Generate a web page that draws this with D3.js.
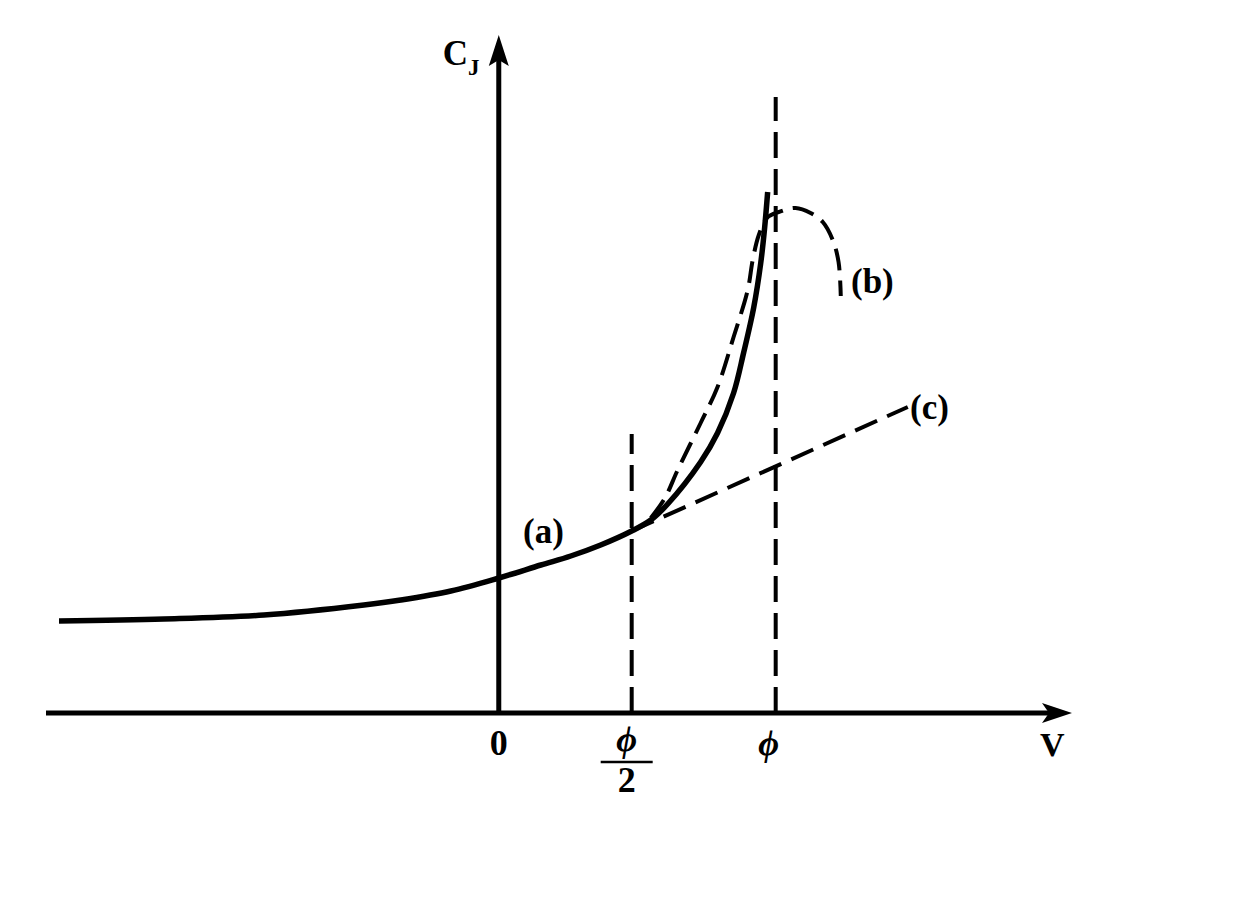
<!DOCTYPE html>
<html>
<head>
<meta charset="utf-8">
<script src="https://cdn.jsdelivr.net/npm/d3@7"></script>
<style>
	html, body { margin: 0; padding: 0; background: #fff; }
	svg { display: block; }
	text { font-family: "Liberation Serif", "DejaVu Serif", serif; font-weight: bold; fill: #000; }
</style>
</head>
<body>
<svg width="1250" height="902"></svg>
<script>
'use strict';

// V in units of phi, C_J in arbitrary units
const vRange = [-1.635, 2.07];
const cRange = [0, 6.78];

// (a) solid curve
const curveA = [
	[-1.588, 0.92], [-1.209, 0.94], [-0.848, 0.98], [-0.487, 1.08], [-0.354, 1.13],
	[-0.173, 1.22], [0, 1.35], [0.152, 1.48], [0.26, 1.57], [0.368, 1.68],
	[0.48, 1.82], [0.549, 1.93], [0.61, 2.09], [0.729, 2.51], [0.79, 2.80],
	[0.848, 3.20], [0.884, 3.60], [0.921, 4.06], [0.946, 4.50], [0.96, 4.85],
	[0.971, 5.21]
];

// (b) dashed curve with the rounded top
const curveB = [
	[0.549, 1.95], [0.60, 2.15], [0.646, 2.43], [0.729, 2.90], [0.79, 3.26],
	[0.848, 3.76], [0.899, 4.23], [0.917, 4.53], [0.939, 4.78], [0.968, 4.95],
	[1.011, 5.01], [1.072, 5.05], [1.126, 5.00], [1.170, 4.91], [1.206, 4.73],
	[1.227, 4.51], [1.235, 4.17]
];

// (c) dashed tangent line
const lineC = [[0.48, 1.82], [1.477, 3.06]];

// dashed verticals at phi/2 and phi
const markerV = [0.48, 1];
const markerTop = [2.79, 6.16];

const tickValues = [0, 0.48, 1];
const tickLabels = ["0", "\u03D5/2", "\u03D5"];

const svg = d3.select("svg");
const x = d3.scaleLinear().domain(vRange).range([46, 1072]);
const y = d3.scaleLinear().domain(cRange).range([713, 35]);

const line = d3.line()
	.x(d => x(d[0]))
	.y(d => y(d[1]));

// axes
const x0 = x(0), y0 = y(0);
const xEnd = x(vRange[1]), yEnd = y(cRange[1]);
svg.append("line")
	.attr("x1", x(vRange[0])).attr("y1", y0)
	.attr("x2", xEnd - 22).attr("y2", y0)
	.attr("stroke", "#000").attr("stroke-width", 5);
svg.append("path")
	.attr("d", `M${xEnd},${y0} L${xEnd - 30},${y0 - 10} L${xEnd - 23},${y0} L${xEnd - 30},${y0 + 10} Z`)
	.attr("fill", "#000");

svg.append("line")
	.attr("x1", x0).attr("y1", y0)
	.attr("x2", x0).attr("y2", yEnd + 22)
	.attr("stroke", "#000").attr("stroke-width", 5);
svg.append("path")
	.attr("d", `M${x0},${yEnd} L${x0 - 10},${yEnd + 31} L${x0},${yEnd + 25} L${x0 + 10},${yEnd + 31} Z`)
	.attr("fill", "#000");

// dashed verticals
markerV.forEach((v, i) => {
	svg.append("line")
		.attr("x1", x(v)).attr("y1", y0)
		.attr("x2", x(v)).attr("y2", y(markerTop[i]))
		.attr("stroke", "#000").attr("stroke-width", 4)
		.attr("stroke-dasharray", "26,11");
});

// curves
svg.append("path")
	.datum(lineC)
	.attr("d", line)
	.attr("fill", "none").attr("stroke", "#000").attr("stroke-width", 4)
	.attr("stroke-dasharray", "24,11");

svg.append("path")
	.datum(curveB)
	.attr("d", line.curve(d3.curveCatmullRom))
	.attr("fill", "none").attr("stroke", "#000").attr("stroke-width", 4)
	.attr("stroke-dasharray", "22,10");

svg.append("path")
	.datum(curveA)
	.attr("d", line.curve(d3.curveCatmullRom))
	.attr("fill", "none").attr("stroke", "#000").attr("stroke-width", 5.5);

// axis titles
const cj = svg.append("text")
	.attr("x", x0 - 56).attr("y", yEnd + 30)
	.attr("font-size", 35);
cj.append("tspan").text("C");
cj.append("tspan").attr("font-size", 23).attr("dy", 10).text("J");

svg.append("text")
	.attr("x", xEnd - 32).attr("y", y0 + 43)
	.attr("font-size", 34)
	.text("V");

// tick labels
tickValues.forEach((v, i) => {
	const lbl = tickLabels[i];
	if (lbl.includes("/")) {
		const parts = lbl.split("/");
		svg.append("text")
			.attr("x", x(v) - 5).attr("y", y0 + 38)
			.attr("text-anchor", "middle").attr("font-size", 36).attr("font-style", "italic")
			.text(parts[0]);
		svg.append("line")
			.attr("x1", x(v) - 31).attr("x2", x(v) + 21)
			.attr("y1", y0 + 49).attr("y2", y0 + 49)
			.attr("stroke", "#000").attr("stroke-width", 2.5);
		svg.append("text")
			.attr("x", x(v) - 5).attr("y", y0 + 79)
			.attr("text-anchor", "middle").attr("font-size", 36)
			.text(parts[1]);
	} else {
		svg.append("text")
			.attr("x", x(v) - (lbl === "0" ? 0 : 7)).attr("y", y0 + 42)
			.attr("text-anchor", "middle").attr("font-size", 36)
			.attr("font-style", lbl === "0" ? null : "italic")
			.text(lbl);
	}
});

// curve labels
svg.append("text").attr("x", 523).attr("y", 543).attr("font-size", 35).text("(a)");
svg.append("text").attr("x", 851).attr("y", 293).attr("font-size", 35).text("(b)");
svg.append("text").attr("x", 910).attr("y", 419).attr("font-size", 35).text("(c)");
</script>
</body>
</html>
